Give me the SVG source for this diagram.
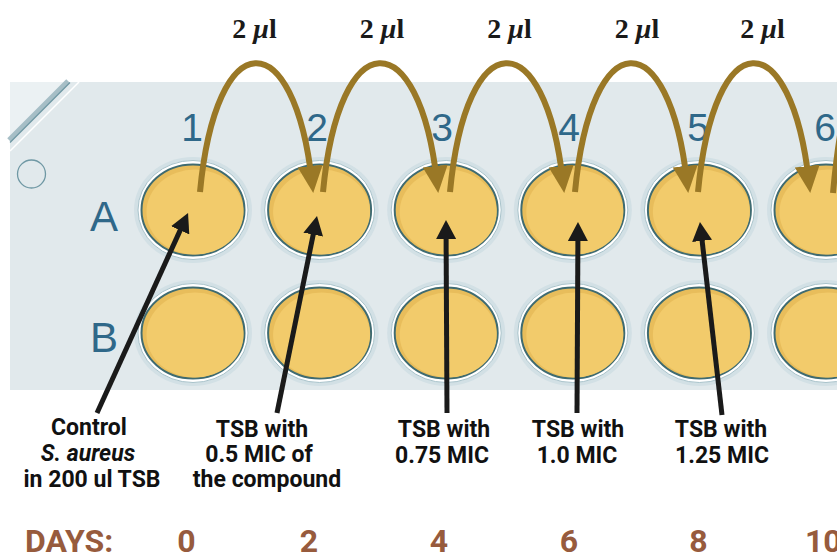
<svg xmlns="http://www.w3.org/2000/svg" xmlns:xlink="http://www.w3.org/1999/xlink" width="837" height="554" viewBox="0 0 837 554">
  <style>
    .coord { font-family: "Liberation Sans", Arial, sans-serif; fill: #2f6889; }
    .col { font-size: 39px; text-anchor: middle; }
    .row { font-size: 42px; text-anchor: middle; }
    .vol { font-family: "Liberation Serif", "Times New Roman", serif; font-weight: bold; font-size: 28px; fill: #1a1a1a; text-anchor: middle; }
    .lbl { font-family: Roboto, "Liberation Sans", Arial, sans-serif; font-weight: bold; font-size: 23px; fill: #111111; text-anchor: middle; }
    .day { font-family: Roboto, "Liberation Sans", Arial, sans-serif; font-weight: bold; font-size: 32px; fill: #975b3d; }
    .transfer { fill: none; stroke: #9a7826; stroke-width: 6; marker-end: url(#gold-head); }
    .pointer { fill: none; stroke: #1a1a1a; stroke-width: 5; marker-end: url(#black-head); }
  </style>
  <defs>
    <marker id="gold-head" markerUnits="userSpaceOnUse" markerWidth="28" markerHeight="26" refX="16" refY="12.5" orient="auto">
      <path d="M0,0 L27,12.5 L0,25 Z" fill="#9a7826"/>
    </marker>
    <marker id="black-head" markerUnits="userSpaceOnUse" markerWidth="20" markerHeight="20" refX="9" refY="10" orient="auto">
      <path d="M0,0 L19,10 L0,20 Z" fill="#1a1a1a"/>
    </marker>
    <!-- one well of the plate, centred on 0,0 -->
    <g id="well-shape">
      <ellipse rx="59" ry="53" fill="#d2e0e5"/>
      <ellipse rx="55" ry="49.5" fill="#ffffff" stroke="#a9c3cb" stroke-width="1"/>
      <ellipse rx="51.5" ry="45.5" fill="#e8bd5b" stroke="#3f6b71" stroke-width="2"/>
      <ellipse cx="2" cy="2" rx="48.5" ry="42.5" fill="#f2cb6b"/>
    </g>
  </defs>

  <rect width="837" height="554" fill="#ffffff"/>

  <!-- plate body -->
  <g id="plate">
    <rect x="10" y="82" width="827" height="308" fill="#e1e9ec"/>
    <path d="M10,82 L69,82 L10,140 Z" fill="#ebf1f3"/>
    <line x1="9" y1="140" x2="68" y2="81" stroke="#a6bec6" stroke-width="5"/>
    <line x1="10" y1="142.5" x2="70" y2="82.5" stroke="#6f98a4" stroke-width="1.3"/>
    <line x1="10" y1="151" x2="79" y2="82" stroke="#ffffff" stroke-width="1.6"/>
    <circle cx="31.5" cy="174" r="14" fill="none" stroke="#6f98a4" stroke-width="1.3"/>
  </g>

  <!-- column and row coordinates -->
  <g id="coordinates" class="coord">
    <text class="col" x="192" y="141">1</text>
    <text class="col" x="317" y="141">2</text>
    <text class="col" x="442" y="141">3</text>
    <text class="col" x="569" y="141">4</text>
    <text class="col" x="698" y="141">5</text>
    <text class="col" x="825" y="141">6</text>
    <text class="row" x="104" y="231">A</text>
    <text class="row" x="104" y="352">B</text>
  </g>

  <!-- wells, row A -->
  <g id="well-A1"><use xlink:href="#well-shape" x="193" y="210"/></g>
  <g id="well-A2"><use xlink:href="#well-shape" x="319.6" y="210"/></g>
  <g id="well-A3"><use xlink:href="#well-shape" x="446.2" y="210"/></g>
  <g id="well-A4"><use xlink:href="#well-shape" x="572.8" y="210"/></g>
  <g id="well-A5"><use xlink:href="#well-shape" x="699.4" y="210"/></g>
  <g id="well-A6"><use xlink:href="#well-shape" x="826" y="210"/></g>
  <!-- wells, row B -->
  <g id="well-B1"><use xlink:href="#well-shape" x="193" y="333"/></g>
  <g id="well-B2"><use xlink:href="#well-shape" x="319.6" y="333"/></g>
  <g id="well-B3"><use xlink:href="#well-shape" x="446.2" y="333"/></g>
  <g id="well-B4"><use xlink:href="#well-shape" x="572.8" y="333"/></g>
  <g id="well-B5"><use xlink:href="#well-shape" x="699.4" y="333"/></g>
  <g id="well-B6"><use xlink:href="#well-shape" x="826" y="333"/></g>

  <!-- connectors: serial transfers and label pointers -->
  <g id="connectors">
    <path class="transfer" d="M200,192 C216,22 294,22 312,182"/>
    <path class="transfer" d="M323,192 C339,22 419,22 437,182"/>
    <path class="transfer" d="M450,192 C466,22 545,22 563,182"/>
    <path class="transfer" d="M575,192 C591,22 669,22 687,182"/>
    <path class="transfer" d="M698,192 C714,22 791,22 809,182"/>
    <path fill="none" stroke="#9a7826" stroke-width="6" d="M833,193 C845,60 870,30 900,25"/>

    <path class="pointer" d="M97,413 L183.9,222.1"/>
    <path class="pointer" d="M277,413 L315,225.8"/>
    <path class="pointer" d="M447,413 L446.05,230"/>
    <path class="pointer" d="M577,413 L577.95,232"/>
    <path class="pointer" d="M722,415 L701.1,231.9"/>
  </g>

  <!-- transfer volumes -->
  <g id="volumes" class="vol">
    <text x="254.5" y="38">2 <tspan font-style="italic">μ</tspan>l</text>
    <text x="382" y="38">2 <tspan font-style="italic">μ</tspan>l</text>
    <text x="509.5" y="38">2 <tspan font-style="italic">μ</tspan>l</text>
    <text x="637" y="38">2 <tspan font-style="italic">μ</tspan>l</text>
    <text x="762.5" y="38">2 <tspan font-style="italic">μ</tspan>l</text>
  </g>

  <!-- well contents -->
  <g id="label-control" class="lbl">
    <text x="89" y="435">Control</text>
    <text x="88" y="461" font-style="italic">S. aureus</text>
    <text x="92" y="487">in 200 ul TSB</text>
  </g>
  <g id="label-05" class="lbl">
    <text x="262" y="437">TSB with</text>
    <text x="259" y="462">0.5 MIC of</text>
    <text x="267" y="487">the compound</text>
  </g>
  <g id="label-075" class="lbl">
    <text x="444" y="437">TSB with</text>
    <text x="442" y="463">0.75 MIC</text>
  </g>
  <g id="label-10" class="lbl">
    <text x="578" y="437">TSB with</text>
    <text x="577" y="463">1.0 MIC</text>
  </g>
  <g id="label-125" class="lbl">
    <text x="721" y="437">TSB with</text>
    <text x="722" y="463">1.25 MIC</text>
  </g>

  <!-- timeline -->
  <g id="days" class="day">
    <text x="25" y="552">DAYS:</text>
    <text x="186.5" y="552" text-anchor="middle">0</text>
    <text x="309" y="552" text-anchor="middle">2</text>
    <text x="439" y="552" text-anchor="middle">4</text>
    <text x="569" y="552" text-anchor="middle">6</text>
    <text x="698.5" y="552" text-anchor="middle">8</text>
    <text x="805" y="552">10</text>
  </g>
</svg>
